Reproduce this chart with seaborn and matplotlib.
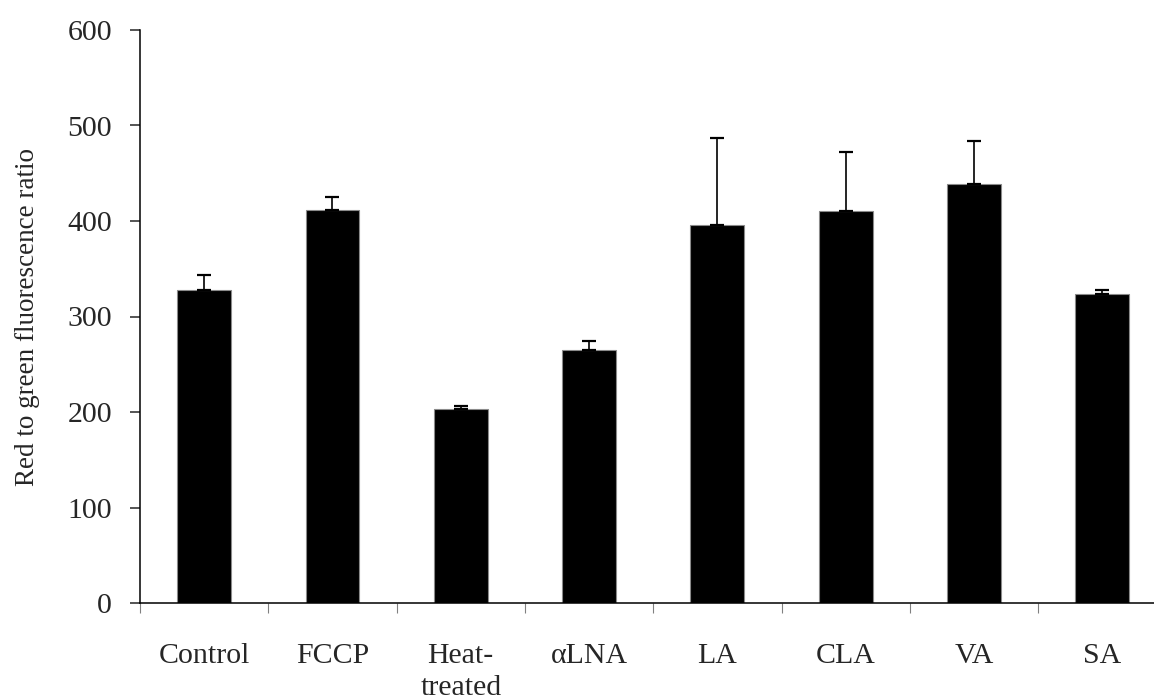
import matplotlib
matplotlib.use("Agg")
import matplotlib.pyplot as plt
import seaborn as sns
import pandas as pd
import numpy as np

categories = ["Control", "FCCP", "Heat-\ntreated", "\u03b1LNA", "LA", "CLA", "VA", "SA"]
values = [328, 411, 203, 265, 396, 410, 439, 324]
errors = [15, 14, 3, 9, 91, 62, 45, 3.5]
y_ticks = [0, 100, 200, 300, 400, 500, 600]
y_label = "Red to green fluorescence ratio"

sns.set_style("white")
plt.rcParams["font.family"] = ["Liberation Serif", "DejaVu Serif"]

df = pd.DataFrame({"cat": categories, "val": values})

fig = plt.figure(figsize=(11.54, 7.0), dpi=100)
ax = fig.add_axes([140 / 1154, 1 - 603 / 700, 1026.4 / 1154, 573 / 700])

sns.barplot(data=df, x="cat", y="val", color="black", width=0.42,
            edgecolor="#8a8a8a", linewidth=0.8, saturation=1, ax=ax, errorbar=None)

pos = np.arange(len(categories))
ax.errorbar(pos, values, yerr=[np.zeros(len(errors)), errors], fmt="none",
            ecolor="black", elinewidth=1.2, capsize=5, capthick=1.6, zorder=3)

ax.set_xlim(-0.5, len(categories) - 0.5)
ax.set_ylim(0, 600)
ax.set_yticks(y_ticks)
ax.set_xlabel("")
ax.set_ylabel(y_label, fontsize=19.5, labelpad=20)

for s in ["top", "right"]:
    ax.spines[s].set_visible(False)
for s in ["left", "bottom"]:
    ax.spines[s].set_linewidth(1.1)
    ax.spines[s].set_color("black")

ax.tick_params(axis="y", direction="out", length=7, width=1.1, pad=13, labelsize=21.5, left=True)
ax.tick_params(axis="x", which="major", length=0, pad=29, labelsize=21.5)
for lbl in ax.get_xticklabels():
    lbl.set_linespacing(1.3)
ax.set_xticks(np.arange(-0.5, len(categories) - 0.5, 1), minor=True)
ax.tick_params(axis="x", which="minor", direction="out", length=7, width=0.8, color="#808080", bottom=True)

fig.savefig("out.png", dpi=100)
